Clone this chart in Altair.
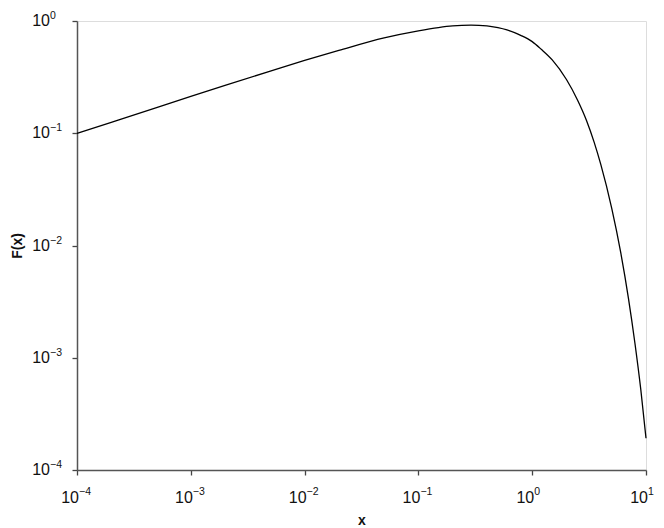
import altair as alt
import pandas as pd

x_vals = [1e-4, 2e-4, 5e-4, 1e-3, 2e-3, 5e-3, 0.01, 0.02, 0.05, 0.1, 0.15, 0.2, 0.29,
          0.4, 0.5, 0.6, 0.7, 0.8, 1.0, 1.2, 1.5, 2.0, 2.5, 3.0, 3.5, 4.0, 5.0, 6.0,
          7.0, 8.0, 9.0, 10.0]
f_vals = [0.0996, 0.125, 0.169, 0.213, 0.267, 0.358, 0.445, 0.547, 0.708, 0.818, 0.874,
          0.904, 0.918, 0.905, 0.872, 0.832, 0.787, 0.742, 0.655, 0.56, 0.45, 0.301,
          0.198, 0.130, 0.0833, 0.0530, 0.0214, 0.00862, 0.00342, 0.00134, 0.000521,
          0.000192]
x_ticks = [1e-4, 1e-3, 1e-2, 1e-1, 1, 10]
x_exps = ["−4", "−3", "−2", "−1", "0", "1"]
y_ticks = [1e-4, 1e-3, 1e-2, 1e-1, 1]
y_exps = ["−4", "−3", "−2", "−1", "0"]

W, H = 569, 449
font = "Liberation Sans"

df = pd.DataFrame({"x": x_vals, "F": f_vals})
xt = pd.DataFrame({"v": x_ticks, "e": x_exps, "b": ["10"] * len(x_ticks)})
yt = pd.DataFrame({"v": y_ticks, "e": y_exps, "b": ["10"] * len(y_ticks)})

xscale = alt.Scale(type="log", domain=[1e-4, 10])
yscale = alt.Scale(type="log", domain=[1e-4, 1])

axis_common = dict(grid=False, ticks=True, tickSize=5, tickWidth=1.3, labels=False,
                   domainColor="#555", tickColor="#444", domainWidth=1.5,
                   titleFont=font, titleFontSize=14, titleFontWeight="bold",
                   titleColor="#111")

line = alt.Chart(df).mark_line(color="black", strokeWidth=1.3, interpolate="monotone").encode(
    x=alt.X("x:Q", scale=xscale, axis=alt.Axis(title="x", values=x_ticks, titlePadding=38, **axis_common)),
    y=alt.Y("F:Q", scale=yscale, axis=alt.Axis(title="F(x)", values=y_ticks, titlePadding=47, **axis_common)),
)

xb = alt.Chart(xt).mark_text(font=font, fontSize=16, align="right", baseline="alphabetic",
                             dx=2, color="#111").encode(
    x=alt.X("v:Q", scale=xscale), y=alt.value(H + 33), text="b:N")
xe = alt.Chart(xt).mark_text(font=font, fontSize=10.5, align="left", baseline="alphabetic",
                             dx=2, color="#111").encode(
    x=alt.X("v:Q", scale=xscale), y=alt.value(H + 25), text="e:N")
yb = alt.Chart(yt).mark_text(font=font, fontSize=16, align="right", baseline="middle",
                             color="#111").encode(
    x=alt.value(-27), y=alt.Y("v:Q", scale=yscale), text="b:N")
ye = alt.Chart(yt).mark_text(font=font, fontSize=10.5, align="left", baseline="middle",
                             dy=-5, color="#111").encode(
    x=alt.value(-27), y=alt.Y("v:Q", scale=yscale), text="e:N")

chart = alt.layer(line, xb, xe, yb, ye).properties(
    width=W, height=H,
    autosize=alt.AutoSizeParams(type="none"),
    padding={"left": 69, "top": 13, "right": 10, "bottom": 58},
).configure_view(stroke=None).configure(background="white")

chart.save("out.html", embed_options={"renderer": "svg", "actions": False})
